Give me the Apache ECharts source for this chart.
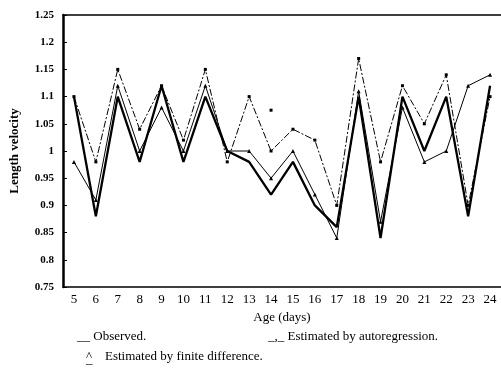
<!DOCTYPE html>
<html>
<head>
<meta charset="utf-8">
<script src="https://cdn.jsdelivr.net/npm/echarts@6/dist/echarts.min.js"></script>
<style>html,body{margin:0;padding:0;background:#fff;}#c{width:501px;height:369px;}</style>
</head>
<body>
<div id="c"></div>
<script>
const ages = ['5','6','7','8','9','10','11','12','13','14','15','16','17','18','19','20','21','22','23','24'];
const observed = [1.10,0.88,1.10,0.98,1.12,0.98,1.10,1.00,0.98,0.92,0.98,0.90,0.86,1.10,0.84,1.10,1.00,1.10,0.88,1.12];
const autoregression = [1.10,0.98,1.15,1.04,1.12,1.02,1.15,0.98,1.10,1.00,1.04,1.02,0.90,1.17,0.98,1.12,1.05,1.14,0.90,1.10];
const finiteDifference = [0.98,0.91,1.12,1.00,1.08,1.00,1.12,1.00,1.00,0.95,1.00,0.92,0.84,1.11,0.87,1.08,0.98,1.00,1.12,1.14];
const isolatedPoint = [null,null,null,null,null,null,null,null,null,1.075,null,null,null,null,null,null,null,null,null,null];
const yTicks = ['0.75','0.8','0.85','0.9','0.95','1','1.05','1.1','1.15','1.2','1.25'];

const chart = echarts.init(document.getElementById('c'), null, {renderer:'canvas'});
const serif = '"Liberation Serif", "DejaVu Serif", serif';
chart.setOption({
  animation:false,
  backgroundColor:'#fff',
  grid:{left:62, right:-7, top:15, bottom:82},
  xAxis:[{
    type:'category', data:ages, boundaryGap:true,
    axisLine:{lineStyle:{color:'#000', width:1.5}},
    axisTick:{inside:true, alignWithLabel:true, length:4, lineStyle:{color:'#000'}},
    axisLabel:{color:'#000', fontFamily:serif, fontSize:13, margin:6},
    name:'Age (days)', nameLocation:'middle', nameGap:20,
    nameTextStyle:{color:'#000', fontFamily:serif, fontSize:13}
  },{
    type:'category', data:ages, position:'top',
    axisLine:{lineStyle:{color:'#000', width:1.5}},
    axisTick:{show:false}, axisLabel:{show:false}
  }],
  yAxis:{
    type:'value', min:0.75, max:1.25, interval:0.05,
    axisLine:{show:true, lineStyle:{color:'#000', width:2.5}},
    axisTick:{show:true, inside:true, length:4, lineStyle:{color:'#000'}},
    splitLine:{show:false},
    axisLabel:{color:'#000', fontFamily:serif, fontWeight:'bold', fontSize:11, margin:9,
      formatter:function(v){const i=Math.round((v-0.75)/0.05);return yTicks[i]!==undefined?yTicks[i]:'';}},
    name:'Length velocity', nameLocation:'middle', nameGap:42,
    nameTextStyle:{color:'#000', fontFamily:serif, fontWeight:'bold', fontSize:13}
  },
  series:[
    {name:'Observed', type:'line', data:observed, symbol:'none',
     lineStyle:{color:'#000', width:2.3}},
    {name:'Estimated by autoregression', type:'line', data:autoregression,
     symbol:'rect', symbolSize:3, itemStyle:{color:'#000'},
     lineStyle:{color:'#000', width:1, type:[7,2,2,2]}},
    {name:'Estimated by finite difference', type:'line', data:finiteDifference,
     symbol:'triangle', symbolSize:4, itemStyle:{color:'#000'},
     lineStyle:{color:'#000', width:1}},
    {name:'isolated', type:'line', data:isolatedPoint, symbol:'rect', symbolSize:3,
     showSymbol:true, itemStyle:{color:'#000'}, lineStyle:{width:0}}
  ],
  graphic:[
    {type:'text', left:77, top:330, style:{text:'__ Observed.', fill:'#000', font:'13px "Liberation Serif", serif'}},
    {type:'text', left:268, top:330, style:{text:'_,_ Estimated by autoregression.', fill:'#000', font:'13px "Liberation Serif", serif'}},
    {type:'text', left:86, top:350, style:{text:'^', fill:'#000', font:'13px "Liberation Serif", serif'}},
    {type:'text', left:86, top:353, style:{text:'_', fill:'#000', font:'13px "Liberation Serif", serif'}},
    {type:'text', left:105, top:350, style:{text:'Estimated by finite difference.', fill:'#000', font:'13px "Liberation Serif", serif'}}
  ]
});
</script>
</body>
</html>
